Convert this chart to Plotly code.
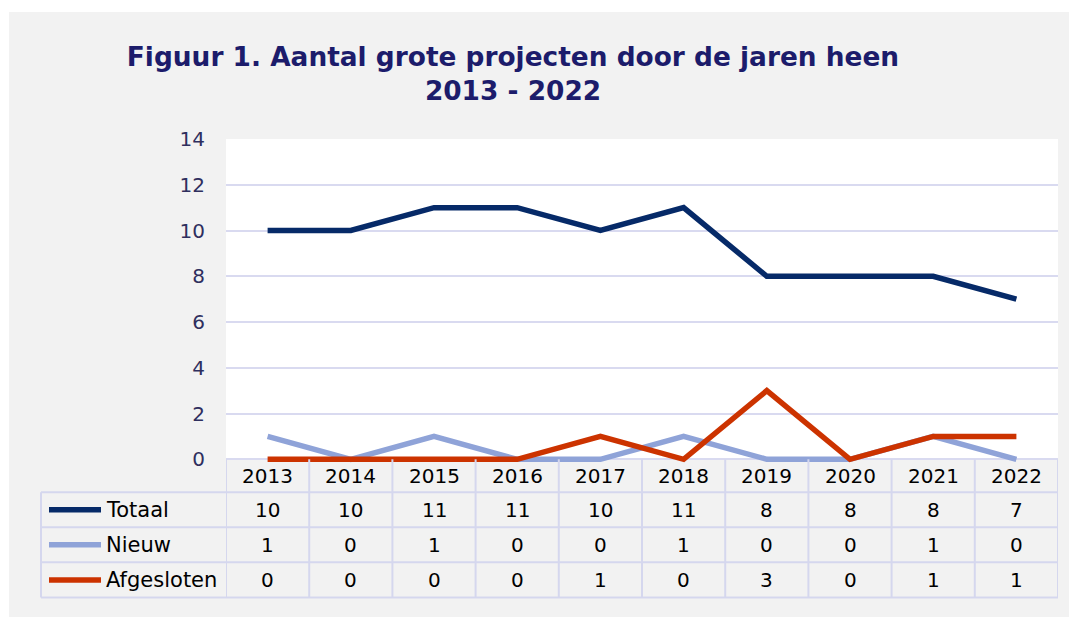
import plotly.graph_objects as go

# ---- data ----
years = ['2013', '2014', '2015', '2016', '2017', '2018', '2019', '2020', '2021', '2022']
totaal = [10, 10, 11, 11, 10, 11, 8, 8, 8, 7]
nieuw = [1, 0, 1, 0, 0, 1, 0, 0, 1, 0]
afgesloten = [0, 0, 0, 0, 1, 0, 3, 0, 1, 1]
series_names = ['Totaal', 'Nieuw', 'Afgesloten']
y_ticks = [0, 2, 4, 6, 8, 10, 12, 14]
title_lines = ['Figuur 1. Aantal grote projecten door de jaren heen', '2013 - 2022']

# ---- layout geometry (page pixels) ----
W, H = 1069, 617
PL, PR, PT, P0 = 226, 1058, 139, 459
YMIN, YMAX = -0.25, 14
ppu = (P0 - PT) / YMAX
PB = P0 - YMIN * ppu

def fx(px):
    return (px - PL) / (PR - PL)

def fy(py):
    return (PB - py) / (PB - PT)

FONT = 'Verdana, DejaVu Sans, sans-serif'
colors = ['#062A68', '#8FA3D8', '#CC3300']
grid_col = '#D9DAF0'
border_col = '#D5D7EE'
values = [totaal, nieuw, afgesloten]

fig = go.Figure()
for name, vals, col in zip(series_names, values, colors):
    fig.add_trace(go.Scatter(x=years, y=vals, mode='lines', name=name,
                             line=dict(color=col, width=5.5), showlegend=False,
                             hoverinfo='x+y+name'))

shapes = []
# white strips outside the grey chart area
shapes.append(dict(type='rect', xref='paper', yref='paper', x0=fx(0), x1=fx(W), y0=fy(0), y1=fy(12),
                   fillcolor='white', line=dict(width=0), layer='above'))
shapes.append(dict(type='rect', xref='paper', yref='paper', x0=fx(0), x1=fx(9), y0=fy(0), y1=fy(H),
                   fillcolor='white', line=dict(width=0), layer='above'))
# white plot area
shapes.append(dict(type='rect', xref='x', yref='y', x0=-0.5, x1=len(years) - 0.5, y0=0, y1=YMAX,
                   fillcolor='white', line=dict(width=0), layer='below'))

# table grid
row_lines = [492, 527, 562, 597]
for k in range(len(years) + 1):
    shapes.append(dict(type='line', xref='x', yref='paper', x0=k - 0.5, x1=k - 0.5,
                       y0=fy(P0), y1=fy(597), line=dict(color=border_col, width=2)))
shapes.append(dict(type='line', xref='paper', yref='paper', x0=fx(41), x1=fx(41),
                   y0=fy(492), y1=fy(597), line=dict(color=border_col, width=2)))
for yy in row_lines:
    shapes.append(dict(type='line', xref='paper', yref='paper', x0=fx(41), x1=fx(PR),
                       y0=fy(yy), y1=fy(yy), line=dict(color=border_col, width=2)))

annotations = []
# header row: years
for i, yr in enumerate(years):
    annotations.append(dict(x=i, xref='x', y=fy(476), yref='paper', text=yr, showarrow=False,
                            xanchor='center', yanchor='middle', font=dict(family=FONT, size=20, color='black')))
# data rows
for r, (name, vals, col) in enumerate(zip(series_names, values, colors)):
    cy = 509.5 + 35 * r
    shapes.append(dict(type='line', xref='paper', yref='paper', x0=fx(49), x1=fx(101),
                       y0=fy(cy), y1=fy(cy), line=dict(color=col, width=5.5)))
    annotations.append(dict(x=fx(104), xref='paper', y=fy(cy), yref='paper', text=name, showarrow=False,
                            xanchor='left', yanchor='middle', font=dict(family=FONT, size=21, color='black')))
    for i, v in enumerate(vals):
        annotations.append(dict(x=i, xref='x', y=fy(cy), yref='paper', text=str(v), showarrow=False,
                                xanchor='center', yanchor='middle', font=dict(family=FONT, size=20, color='black')))

fig.update_layout(
    width=W, height=H,
    margin=dict(l=PL, r=W - PR, t=PT, b=H - PB, pad=0),
    paper_bgcolor='#F2F2F2', plot_bgcolor='#F2F2F2',
    title=dict(text='<b>' + '<br>'.join(title_lines) + '</b>', x=513 / W, xref='container',
               xanchor='center', y=1 - 66 / H, yref='container', yanchor='top',
               font=dict(family=FONT, size=26.4, color='#1C1C6B')),
    xaxis=dict(type='category', range=[-0.5, len(years) - 0.5], showticklabels=False,
               showgrid=False, zeroline=False, showline=False, ticks=''),
    yaxis=dict(range=[YMIN, YMAX], tickvals=y_ticks, showgrid=True, gridcolor=grid_col, gridwidth=2,
               zeroline=False, showline=False, ticks='outside', ticklen=16, tickcolor='rgba(0,0,0,0)',
               tickfont=dict(family=FONT, size=20, color='#2F2F5E')),
    shapes=shapes, annotations=annotations,
)

fig.write_html('out.html', config={'displayModeBar': False},
               post_script="document.body.style.margin='0';document.body.style.overflow='hidden';")
